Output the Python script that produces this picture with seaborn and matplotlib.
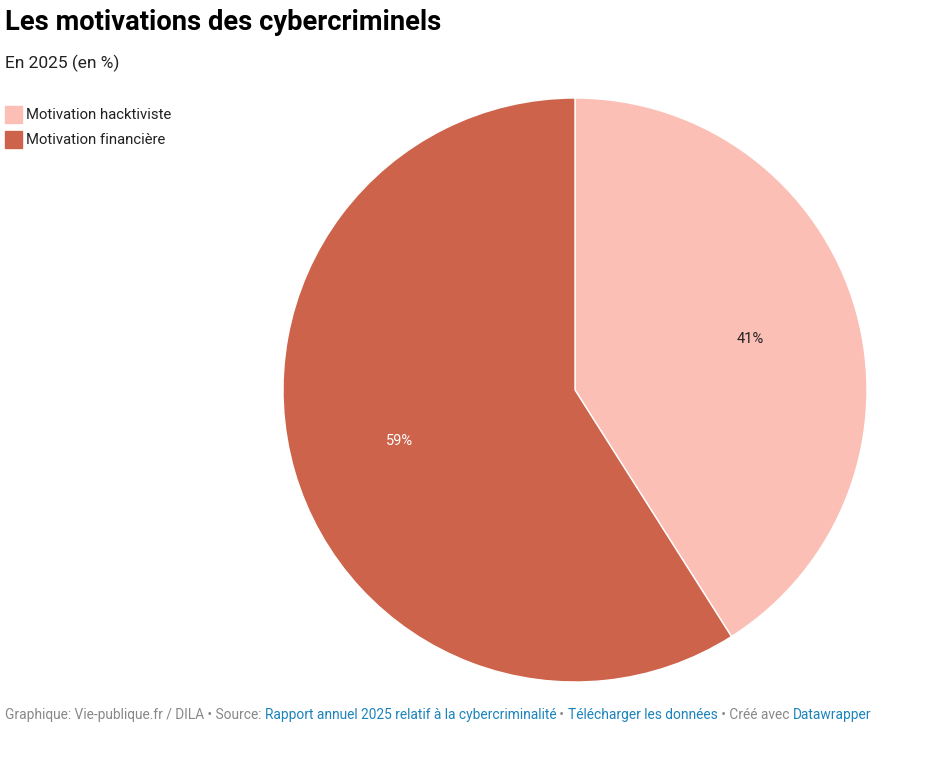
import matplotlib
matplotlib.use("Agg")
import matplotlib.pyplot as plt
import seaborn as sns

categories = ["Motivation hacktiviste", "Motivation financière"]
values = [41, 59]
colors = ["#fbbfb6", "#cd634b"]
label_colors = ["#222222", "#ffffff"]

title = "Les motivations des cybercriminels"
subtitle = "En 2025 (en %)"
footer = [
    ("Graphique: Vie-publique.fr / DILA • Source: ", "#888888"),
    ("Rapport annuel 2025 relatif à la cybercriminalité", "#1c84bb"),
    (" • ", "#888888"),
    ("Télécharger les données", "#1c84bb"),
    (" • Créé avec ", "#888888"),
    ("Datawrapper", "#1c84bb"),
]

sns.set_theme(style="white")
plt.rcParams["font.family"] = ["Roboto", "DejaVu Sans"]

W, H = 952, 760
fig = plt.figure(figsize=(W / 100, H / 100), dpi=100)

# pie axes: centre (575, 390) px, radius 292 px
cx, cy, r = 575, 390, 292
ax = fig.add_axes([(cx - r) / W, (H - cy - r) / H, 2 * r / W, 2 * r / H])
wedges, texts, autotexts = ax.pie(
    values, colors=colors, startangle=90, counterclock=False,
    autopct=lambda p: f"{p:.0f}%", pctdistance=0.625,
    wedgeprops=dict(edgecolor="white", linewidth=1),
    textprops=dict(fontsize=10.5),
)
for t, c in zip(autotexts, label_colors):
    t.set_color(c)
ax.set_aspect("equal")
ax.set_xlim(-1, 1)
ax.set_ylim(-1, 1)

fig.text(5 / W, 1 - 22 / H, title, fontsize=19.7, fontweight="bold",
         color="#000000", va="center", ha="left")
fig.text(5 / W, 1 - 63 / H, subtitle, fontsize=12.5, color="#222222",
         va="center", ha="left")

# legend
for i, (cat, col) in enumerate(zip(categories, colors)):
    y = 115 + i * 25
    fig.patches.append(plt.Rectangle((5 / W, 1 - (y + 8) / H), 17 / W, 17 / H,
                                     transform=fig.transFigure, color=col))
    fig.text(26 / W, 1 - y / H, cat, fontsize=10.7, color="#222222",
             va="center", ha="left")

# footer with mixed colours
fig.canvas.draw()
renderer = fig.canvas.get_renderer()
x = 5
for txt, col in footer:
    t = fig.text(x / W, 1 - 715 / H, txt, fontsize=9.95, color=col,
                 va="center", ha="left")
    bb = t.get_window_extent(renderer=renderer)
    x += bb.width

fig.savefig("out.png", dpi=100)
